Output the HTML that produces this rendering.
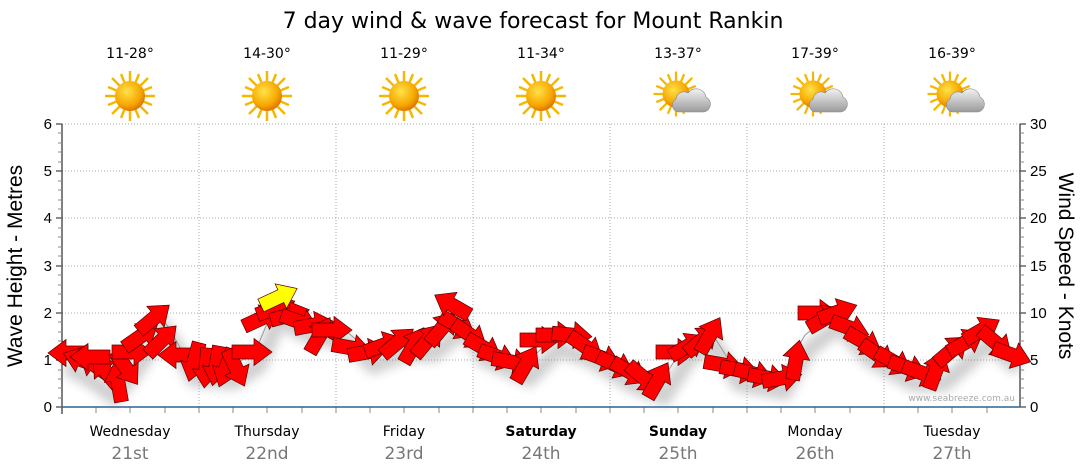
<!DOCTYPE html>
<html><head><meta charset="utf-8"><style>
body{margin:0;background:#fff;}
svg{display:block;font-family:"Liberation Sans",sans-serif;}
.dv{font-family:"DejaVu Sans","Liberation Sans",sans-serif;}
</style></head><body>
<svg width="1080" height="475" viewBox="0 0 1080 475" xmlns="http://www.w3.org/2000/svg">
<defs>
<radialGradient id="sg" cx="40%" cy="35%" r="65%"><stop offset="0" stop-color="#ffe24a"/><stop offset="0.7" stop-color="#f7a800"/><stop offset="1" stop-color="#e07800"/></radialGradient>
<linearGradient id="cg" x1="0" y1="0" x2="0" y2="1"><stop offset="0" stop-color="#f2f2f2"/><stop offset="1" stop-color="#9a9a9a"/></linearGradient>
<g id="sun"><g stroke="#f5b800" stroke-width="2.5">
<line x1="0" y1="-25" x2="0" y2="25"/><line x1="-25" y1="0" x2="25" y2="0"/><line x1="-18" y1="-18" x2="18" y2="18"/><line x1="-18" y1="18" x2="18" y2="-18"/>
<line x1="-9" y1="-22" x2="9" y2="22"/><line x1="9" y1="-22" x2="-9" y2="22"/><line x1="-22" y1="-9" x2="22" y2="9"/><line x1="-22" y1="9" x2="22" y2="-9"/></g>
<circle r="15" fill="url(#sg)"/></g>
<g id="cloud"><use href="#sun" transform="translate(-8,-4) scale(0.9)"/>
<path d="M-6,14 h26 a8,8 0 0 0 2,-15 a10,10 0 0 0 -18,-4 a8,8 0 0 0 -12,6 a7,7 0 0 0 2,13z" fill="url(#cg)" stroke="#888" stroke-width="0.6"/></g>
<polygon id="ar" points="-20,-7 2,-7 2,-13.5 20,0 2,13.5 2,7 -20,7" stroke="#5a0000" stroke-width="0.7"/>
<filter id="bl" x="-10%" y="-50%" width="120%" height="200%"><feGaussianBlur stdDeviation="5"/></filter>
</defs>
<text class="dv" x="533" y="28" font-size="22" text-anchor="middle" fill="#000">7 day wind &amp; wave forecast for Mount Rankin</text>
<g class="dv" font-size="14" text-anchor="middle" fill="#000">
<text x="130" y="58">11-28°</text><text x="267" y="58">14-30°</text><text x="404" y="58">11-29°</text><text x="541" y="58">11-34°</text><text x="678" y="58">13-37°</text><text x="815" y="58">17-39°</text><text x="952" y="58">16-39°</text>
</g>
<use href="#sun" x="130" y="96"/><use href="#sun" x="267" y="96"/><use href="#sun" x="404" y="96"/><use href="#sun" x="541" y="96"/>
<use href="#cloud" x="684" y="98"/><use href="#cloud" x="821" y="98"/><use href="#cloud" x="958" y="98"/>
<g stroke="#aaa" stroke-dasharray="1,2" stroke-width="1">
<line x1="62" y1="124" x2="1020" y2="124"/><line x1="62" y1="171" x2="1020" y2="171"/><line x1="62" y1="218" x2="1020" y2="218"/><line x1="62" y1="266" x2="1020" y2="266"/><line x1="62" y1="313" x2="1020" y2="313"/><line x1="62" y1="360" x2="1020" y2="360"/>
<line x1="199" y1="124" x2="199" y2="407"/><line x1="336" y1="124" x2="336" y2="407"/><line x1="473" y1="124" x2="473" y2="407"/><line x1="610" y1="124" x2="610" y2="407"/><line x1="747" y1="124" x2="747" y2="407"/><line x1="884" y1="124" x2="884" y2="407"/>
</g>
<g stroke="#000" stroke-width="1">
<line x1="62" y1="124" x2="62" y2="414"/><line x1="1020" y1="124" x2="1020" y2="407"/>
</g>
<g stroke="#666" stroke-width="1.5">
<path d="M56,124h6M56,171h6M56,218h6M56,266h6M56,313h6M56,360h6M56,407h6"/>
<path d="M1020,124h6M1020,171h6M1020,218h6M1020,266h6M1020,313h6M1020,360h6M1020,407h6"/>
</g>
<g stroke="#888" stroke-width="1">
<path d="M58,133h4M58,143h4M58,152h4M58,162h4M58,181h4M58,190h4M58,200h4M58,209h4M58,228h4M58,237h4M58,247h4M58,256h4M58,275h4M58,285h4M58,294h4M58,303h4M58,322h4M58,332h4M58,341h4M58,351h4M58,370h4M58,379h4M58,388h4M58,398h4"/>
<path d="M1020,133h4M1020,143h4M1020,152h4M1020,162h4M1020,181h4M1020,190h4M1020,200h4M1020,209h4M1020,228h4M1020,237h4M1020,247h4M1020,256h4M1020,275h4M1020,285h4M1020,294h4M1020,303h4M1020,322h4M1020,332h4M1020,341h4M1020,351h4M1020,370h4M1020,379h4M1020,388h4M1020,398h4"/>
<path d="M96,407v6M130,407v6M165,407v6M199,407v6M233,407v6M267,407v6M302,407v6M336,407v6M370,407v6M404,407v6M439,407v6M473,407v6M507,407v6M541,407v6M576,407v6M610,407v6M644,407v6M678,407v6M713,407v6M747,407v6M781,407v6M815,407v6M850,407v6M884,407v6M918,407v6M952,407v6M987,407v6"/>
</g>
<line x1="62" y1="407" x2="1020" y2="407" stroke="#2a6496" stroke-width="1.5"/>
<g font-size="15" fill="#000" text-anchor="end">
<text x="52" y="129">6</text><text x="52" y="176">5</text><text x="52" y="223">4</text><text x="52" y="271">3</text><text x="52" y="318">2</text><text x="52" y="365">1</text><text x="52" y="412">0</text>
</g>
<g font-size="15" fill="#000">
<text x="1030" y="129">30</text><text x="1030" y="176">25</text><text x="1030" y="223">20</text><text x="1030" y="271">15</text><text x="1030" y="318">10</text><text x="1030" y="365">5</text><text x="1030" y="412">0</text>
</g>
<text transform="translate(22,266) rotate(-90)" font-size="21" text-anchor="middle">Wave Height - Metres</text>
<text transform="translate(1059,266) rotate(90)" font-size="21" text-anchor="middle">Wind Speed - Knots</text>
<text class="dv" x="1015" y="401" font-size="9" fill="#aaa" text-anchor="end">www.seabreeze.com.au</text>
<g class="dv" font-size="14" text-anchor="middle" fill="#000">
<text x="130" y="436">Wednesday</text><text x="267" y="436">Thursday</text><text x="404" y="436">Friday</text><text x="541" y="436" font-weight="bold">Saturday</text><text x="678" y="436" font-weight="bold">Sunday</text><text x="815" y="436">Monday</text><text x="952" y="436">Tuesday</text>
</g>
<g class="dv" font-size="17" text-anchor="middle" fill="#777">
<text x="130" y="459">21st</text><text x="267" y="459">22nd</text><text x="404" y="459">23rd</text><text x="541" y="459">24th</text><text x="678" y="459">25th</text><text x="815" y="459">26th</text><text x="952" y="459">27th</text>
</g>
<polyline filter="url(#bl)" opacity="0.35" fill="none" stroke="#777" stroke-width="16" transform="translate(4,14)" points="62,352 90,368 110,383 130,360 160,315 170,330 190,365 230,368 255,352 275,305 300,320 345,330 370,352 400,340 430,340 460,315 480,345 525,365 555,335 585,345 630,372 660,383 685,345 710,330 735,370 780,378 805,335 835,312 865,345 910,370 940,370 985,330 1015,355"/>
<polyline fill="none" stroke="#999" stroke-width="1" points="62,352 90,368 110,383 130,360 160,315 170,330 190,365 230,368 255,352 275,305 300,320 345,330 370,352 400,340 430,340 460,315 480,345 525,365 555,335 585,345 630,372 660,383 685,345 710,330 735,370 780,378 805,335 835,312 865,345 910,370 940,370 985,330 1015,355"/>
<g fill="#ff0000">
<use href="#ar" transform="translate(68,353) rotate(180)"/>
<use href="#ar" transform="translate(82,360) rotate(200)"/>
<use href="#ar" transform="translate(96,366) rotate(215)"/>
<use href="#ar" transform="translate(106,372) rotate(230)"/>
<use href="#ar" transform="translate(90,357) rotate(180)"/>
<use href="#ar" transform="translate(118,382) rotate(260)"/>
<use href="#ar" transform="translate(126,368) rotate(55)"/>
<use href="#ar" transform="translate(132,352) rotate(0)"/>
<use href="#ar" transform="translate(141,336) rotate(-35)"/>
<use href="#ar" transform="translate(154,318) rotate(-40)"/>
<use href="#ar" transform="translate(162,340) rotate(-45)"/>
<use href="#ar" transform="translate(178,355) rotate(180)"/>
<use href="#ar" transform="translate(194,362) rotate(105)"/>
<use href="#ar" transform="translate(206,368) rotate(95)"/>
<use href="#ar" transform="translate(216,366) rotate(100)"/>
<use href="#ar" transform="translate(226,368) rotate(110)"/>
<use href="#ar" transform="translate(236,368) rotate(65)"/>
<use href="#ar" transform="translate(252,352) rotate(0)"/>
<use href="#ar" transform="translate(262,318) rotate(-25)"/>
<use href="#ar" transform="translate(276,308) rotate(-20)"/>
<use href="#ar" transform="translate(290,315) rotate(-15)"/>
<use href="#ar" transform="translate(300,322) rotate(20)"/>
<use href="#ar" transform="translate(314,325) rotate(-10)"/>
<use href="#ar" transform="translate(320,335) rotate(-60)"/>
<use href="#ar" transform="translate(332,330) rotate(0)"/>
<use href="#ar" transform="translate(352,348) rotate(10)"/>
<use href="#ar" transform="translate(368,352) rotate(-10)"/>
<use href="#ar" transform="translate(384,345) rotate(-20)"/>
<use href="#ar" transform="translate(398,342) rotate(-40)"/>
<use href="#ar" transform="translate(414,345) rotate(-60)"/>
<use href="#ar" transform="translate(428,340) rotate(-50)"/>
<use href="#ar" transform="translate(442,328) rotate(-50)"/>
<use href="#ar" transform="translate(458,326) rotate(30)"/>
<use href="#ar" transform="translate(452,305) rotate(210)"/>
<use href="#ar" transform="translate(470,335) rotate(35)"/>
<use href="#ar" transform="translate(484,348) rotate(30)"/>
<use href="#ar" transform="translate(498,357) rotate(20)"/>
<use href="#ar" transform="translate(512,362) rotate(10)"/>
<use href="#ar" transform="translate(526,364) rotate(-60)"/>
<use href="#ar" transform="translate(540,340) rotate(0)"/>
<use href="#ar" transform="translate(556,335) rotate(0)"/>
<use href="#ar" transform="translate(572,335) rotate(5)"/>
<use href="#ar" transform="translate(586,347) rotate(35)"/>
<use href="#ar" transform="translate(602,358) rotate(20)"/>
<use href="#ar" transform="translate(616,365) rotate(25)"/>
<use href="#ar" transform="translate(630,372) rotate(30)"/>
<use href="#ar" transform="translate(644,378) rotate(40)"/>
<use href="#ar" transform="translate(658,380) rotate(-60)"/>
<use href="#ar" transform="translate(676,352) rotate(0)"/>
<use href="#ar" transform="translate(688,346) rotate(-30)"/>
<use href="#ar" transform="translate(702,340) rotate(-40)"/>
<use href="#ar" transform="translate(710,335) rotate(-60)"/>
<use href="#ar" transform="translate(724,365) rotate(10)"/>
<use href="#ar" transform="translate(740,370) rotate(10)"/>
<use href="#ar" transform="translate(754,374) rotate(15)"/>
<use href="#ar" transform="translate(768,378) rotate(10)"/>
<use href="#ar" transform="translate(782,378) rotate(-10)"/>
<use href="#ar" transform="translate(796,360) rotate(-80)"/>
<use href="#ar" transform="translate(818,313) rotate(0)"/>
<use href="#ar" transform="translate(826,318) rotate(-30)"/>
<use href="#ar" transform="translate(838,312) rotate(-20)"/>
<use href="#ar" transform="translate(850,328) rotate(20)"/>
<use href="#ar" transform="translate(864,342) rotate(30)"/>
<use href="#ar" transform="translate(878,355) rotate(35)"/>
<use href="#ar" transform="translate(894,362) rotate(30)"/>
<use href="#ar" transform="translate(908,368) rotate(20)"/>
<use href="#ar" transform="translate(922,373) rotate(20)"/>
<use href="#ar" transform="translate(936,370) rotate(-70)"/>
<use href="#ar" transform="translate(952,350) rotate(-40)"/>
<use href="#ar" transform="translate(966,342) rotate(-30)"/>
<use href="#ar" transform="translate(982,330) rotate(-30)"/>
<use href="#ar" transform="translate(996,343) rotate(40)"/>
<use href="#ar" transform="translate(1012,355) rotate(20)"/>
</g>
<use href="#ar" transform="translate(279,297) rotate(-25)" fill="#ffff00"/>
</svg>
</body></html>
